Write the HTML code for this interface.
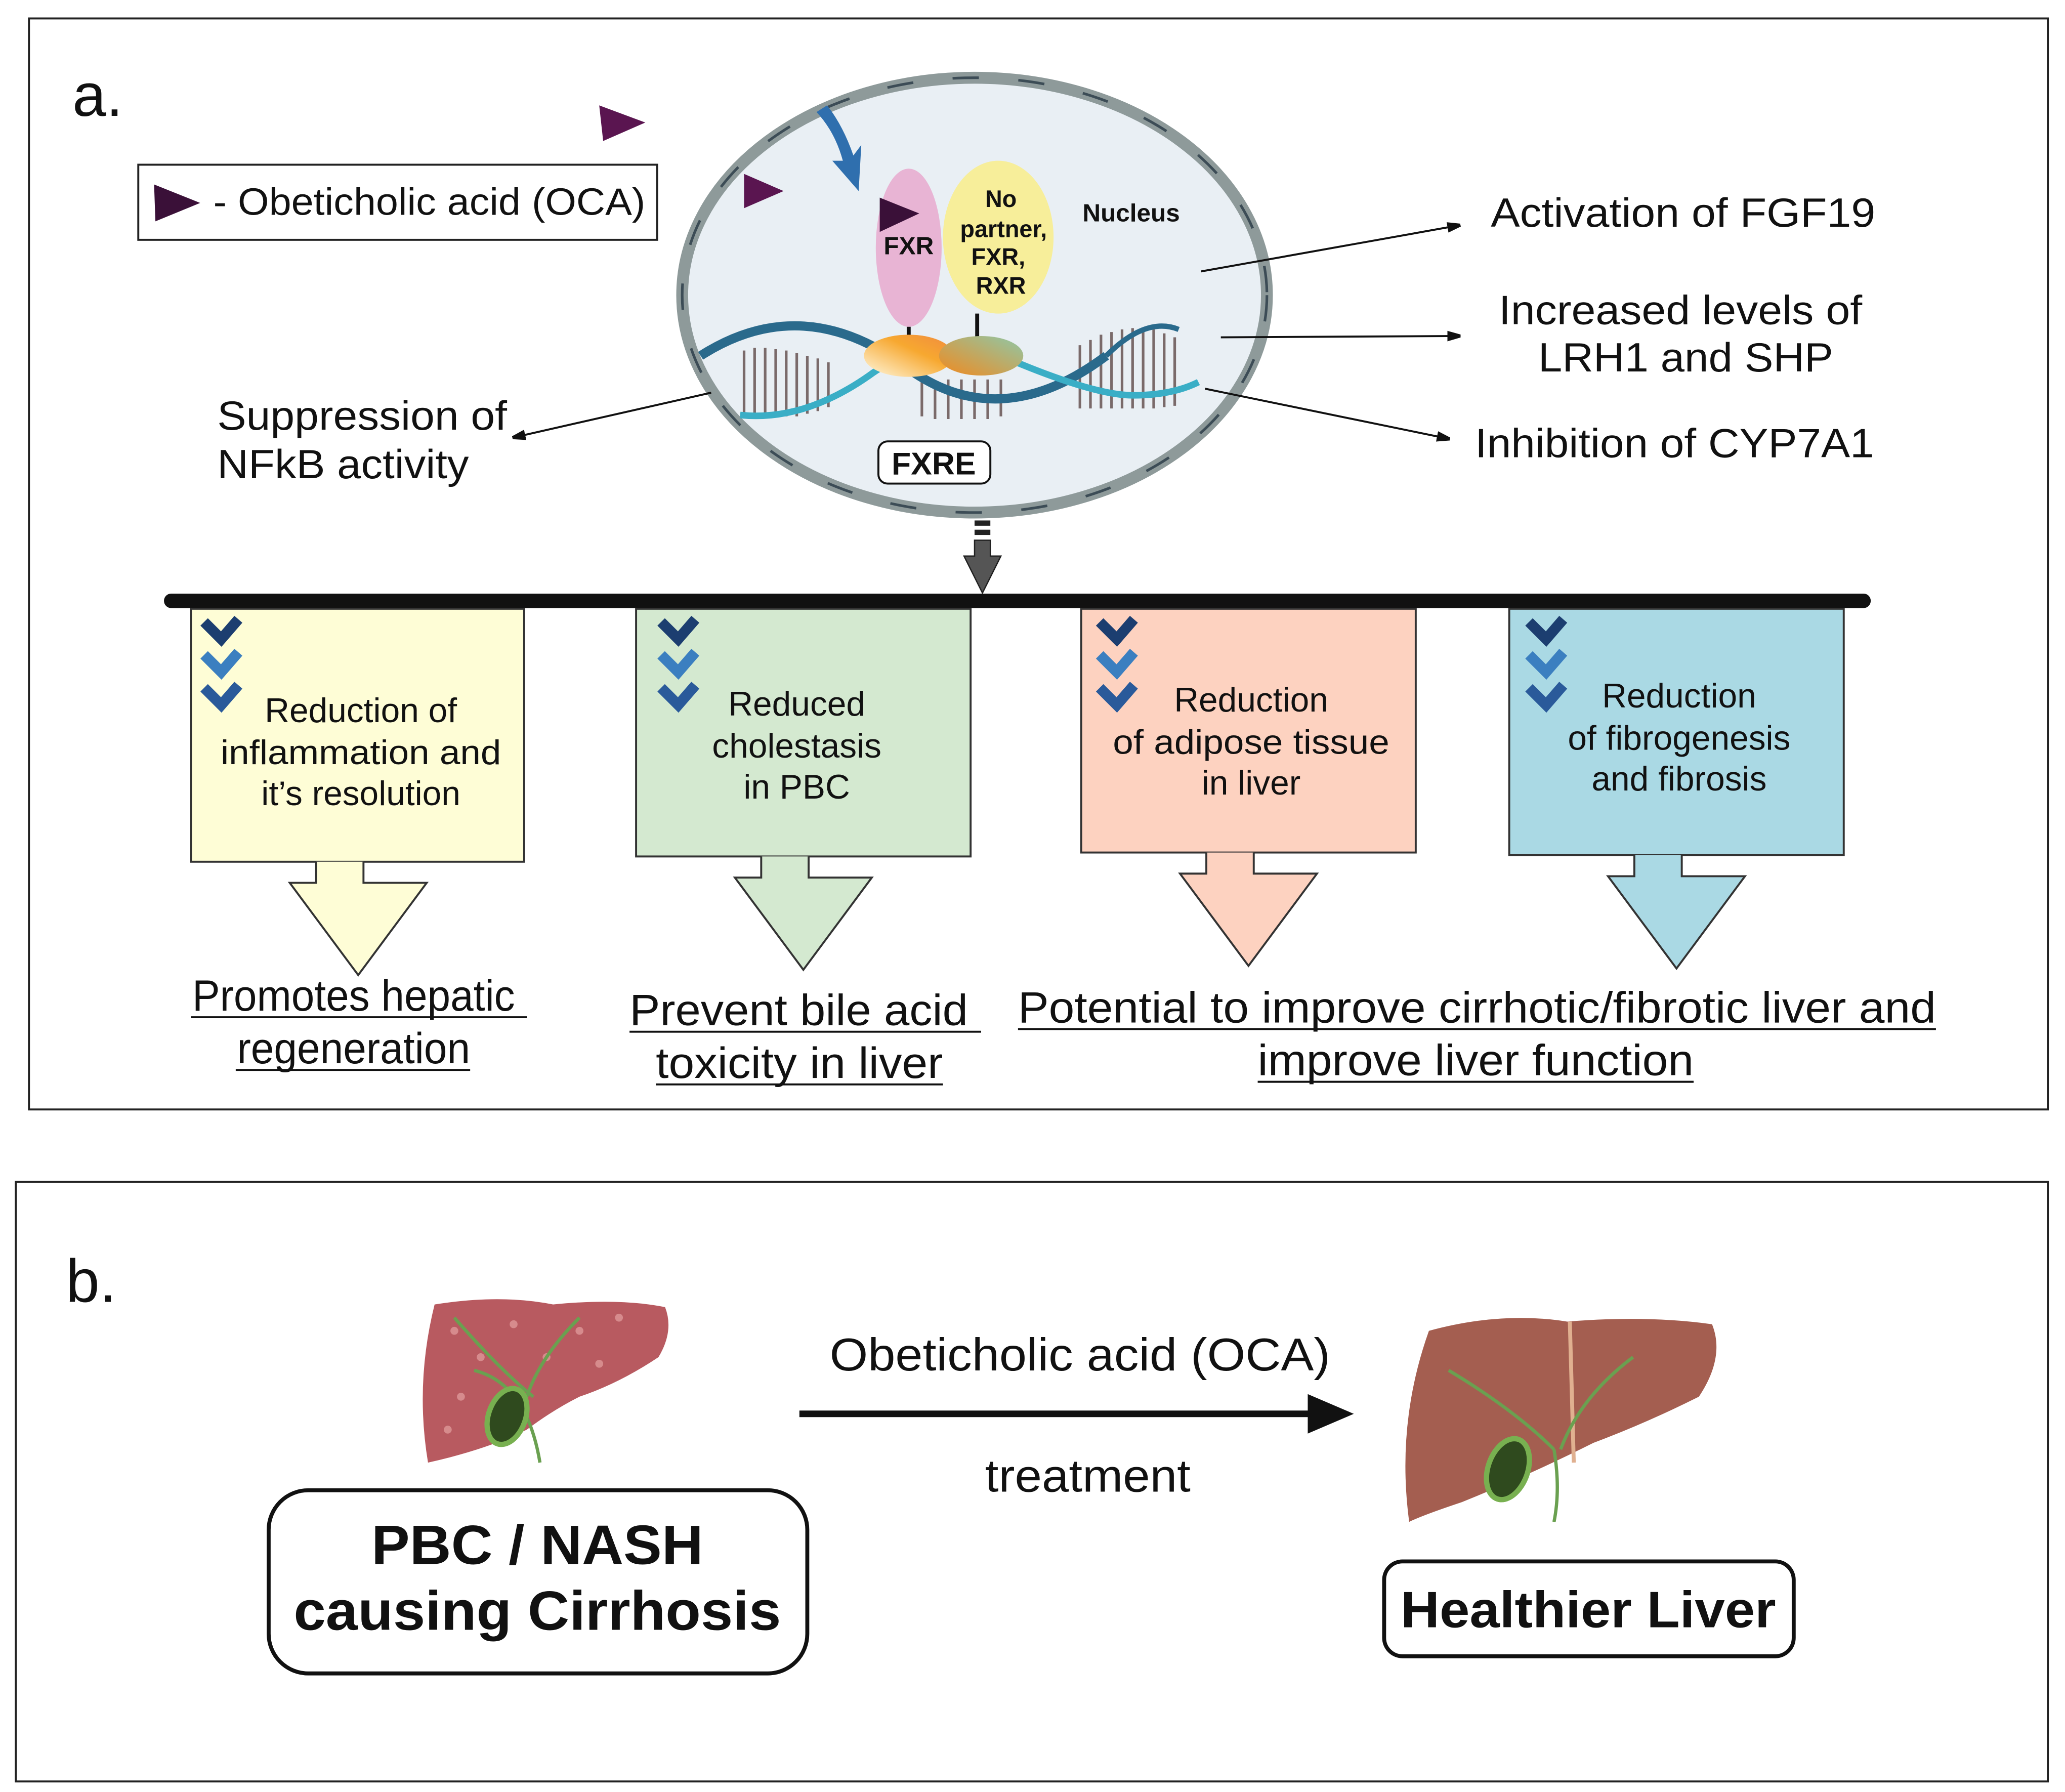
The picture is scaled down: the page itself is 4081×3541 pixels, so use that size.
<!DOCTYPE html>
<html><head><meta charset="utf-8"><style>
html,body{margin:0;padding:0;background:#fff}
svg{display:block}
text{font-family:"Liberation Sans",sans-serif;fill:#111}
</style></head><body>
<svg width="4081" height="3541" viewBox="0 0 1568 1360" preserveAspectRatio="none" xmlns="http://www.w3.org/2000/svg">
<defs>
<marker id="ah" markerWidth="10" markerHeight="8" refX="9" refY="4" orient="auto" markerUnits="userSpaceOnUse"><path d="M0,0 L14,4 L0,8 Z" fill="#111"/></marker>
<linearGradient id="og" x1="0" y1="1" x2="1" y2="0"><stop offset="0" stop-color="#fff8e0"/><stop offset="0.6" stop-color="#f7a830"/><stop offset="1" stop-color="#f08a40"/></linearGradient>
<linearGradient id="og2" x1="0" y1="1" x2="1" y2="0"><stop offset="0" stop-color="#f08a20"/><stop offset="1" stop-color="#8ec8a8"/></linearGradient>
</defs>
<!-- panel a -->
<rect x="22" y="14" width="1533" height="828" fill="#fff" stroke="#222" stroke-width="1.5"/>
<text x="55" y="88" font-size="46">a.</text>
<path d="M455,80 L490,93 L458,107 Z" fill="#5a1550"/>
<rect x="105" y="125" width="394" height="57" fill="#fff" stroke="#222" stroke-width="1.5"/>
<path d="M117,140 L152,154 L118,168 Z" fill="#3a1038"/>
<text x="162" y="163" font-size="29" textLength="328" lengthAdjust="spacingAndGlyphs">- Obeticholic acid (OCA)</text>
<!-- nucleus -->
<ellipse cx="740" cy="224" rx="222" ry="165" fill="#e9eff4" stroke="#8e9a9a" stroke-width="9"/>
<ellipse cx="740" cy="224" rx="222" ry="165" fill="none" stroke="#3c4c56" stroke-width="2" stroke-dasharray="20 30"/>
<path d="M628,80 Q640,95 648,118 L654,110 L652,145 L632,122 L640,122 Q634,100 620,85 Z" fill="#2f6fae"/>
<path d="M565,132 L595,145 L565,158 Z" fill="#5a1550"/>
<!-- DNA -->
<g stroke="#7a6a6a" stroke-width="2">
<path d="M565,266v48M573,264v52M581,264v53M589,265v52M597,266v50M605,268v48M613,270v44M621,272v40M629,275v34M700,290v26M710,290v28M720,288v30M730,288v30M740,288v30M750,288v30M760,288v28M820,262v48M828,258v52M836,254v56M844,252v58M852,250v60M860,249v61M868,249v61M876,250v60M884,253v56M892,256v52"/>
</g>
<path d="M532,270 Q610,220 690,280 Q760,330 840,270" fill="none" stroke="#2a6a8c" stroke-width="7"/>
<path d="M840,270 Q870,240 895,250" fill="none" stroke="#2a6a8c" stroke-width="4"/>
<path d="M562,315 Q610,320 660,285 Q700,255 760,270 Q830,300 860,300 Q890,300 910,290" fill="none" stroke="#3aaec6" stroke-width="5"/>
<!-- proteins -->
<ellipse cx="690" cy="188" rx="25" ry="60" fill="#e8b4d4"/>
<ellipse cx="758" cy="180" rx="42" ry="58" fill="#f7ee9a"/>
<path d="M668,150 L698,162 L668,176 Z" fill="#3a1038"/>
<text x="690" y="193" font-size="19" font-weight="bold" text-anchor="middle">FXR</text>
<g font-size="18" font-weight="bold" text-anchor="middle"><text x="760" y="157">No</text><text x="762" y="180">partner,</text><text x="758" y="201">FXR,</text><text x="760" y="223">RXR</text></g>
<text x="822" y="168" font-size="19" font-weight="bold">Nucleus</text>
<line x1="690" y1="248" x2="690" y2="262" stroke="#111" stroke-width="3"/>
<line x1="742" y1="238" x2="742" y2="260" stroke="#111" stroke-width="3"/>
<ellipse cx="690" cy="270" rx="34" ry="16" fill="url(#og)"/>
<ellipse cx="745" cy="270" rx="32" ry="15" fill="url(#og2)"/>
<rect x="667" y="335" width="85" height="32" rx="7" fill="#fff" stroke="#111" stroke-width="1.5"/>
<text x="709" y="360" font-size="24" font-weight="bold" text-anchor="middle">FXRE</text>
<!-- connectors -->
<g stroke="#111" stroke-width="1.5" fill="none" marker-end="url(#ah)">
<line x1="912" y1="206" x2="1108" y2="171"/>
<line x1="927" y1="256" x2="1108" y2="255"/>
<line x1="915" y1="295" x2="1100" y2="333"/>
<line x1="540" y1="298" x2="390" y2="332"/>
</g>
<text x="1132" y="172" font-size="31" textLength="292" lengthAdjust="spacingAndGlyphs">Activation of FGF19</text>
<text x="1138" y="246" font-size="31" textLength="276" lengthAdjust="spacingAndGlyphs">Increased levels of</text>
<text x="1168" y="282" font-size="31" textLength="224" lengthAdjust="spacingAndGlyphs">LRH1 and SHP</text>
<text x="1120" y="347" font-size="31" textLength="303" lengthAdjust="spacingAndGlyphs">Inhibition of CYP7A1</text>
<text x="165" y="326" font-size="31" textLength="220" lengthAdjust="spacingAndGlyphs">Suppression of</text>
<text x="165" y="363" font-size="31" textLength="191" lengthAdjust="spacingAndGlyphs">NFkB activity</text>
<!-- down arrow -->
<rect x="740" y="395" width="12" height="4" fill="#222"/><rect x="740" y="402" width="12" height="4" fill="#222"/>
<path d="M740,410 h12 v12 h8 l-14,28 l-14,-28 h8 z" fill="#555" stroke="#222"/>
<line x1="130" y1="456" x2="1415" y2="456" stroke="#111" stroke-width="11" stroke-linecap="round"/>
<!-- boxes -->
<g stroke="#333" stroke-width="1.5">
<rect x="145" y="462" width="253" height="192" fill="#fefdd6"/>
<path d="M240,654 v16 h-20 l52,70 l52,-70 h-48 v-16" fill="#fefdd6"/>
<rect x="483" y="462" width="254" height="188" fill="#d4e9d0"/>
<path d="M578,650 v16 h-20 l52,70 l52,-70 h-48 v-16" fill="#d4e9d0"/>
<rect x="821" y="462" width="254" height="185" fill="#fdd2c0"/>
<path d="M916,647 v16 h-20 l52,70 l52,-70 h-48 v-16" fill="#fdd2c0"/>
<rect x="1146" y="462" width="254" height="187" fill="#aad9e4"/>
<path d="M1241,649 v16 h-20 l52,70 l52,-70 h-48 v-16" fill="#aad9e4"/>
</g>
<!-- chevrons -->
<g fill="none" stroke-width="8" stroke-linejoin="miter">
<g transform="translate(168,470)"><path d="M-13,2 l13,13 l13,-15" stroke="#1c3e70"/><path d="M-13,27 l13,13 l13,-15" stroke="#3b7fc0"/><path d="M-13,52 l13,13 l13,-15" stroke="#2a5a9a"/></g>
<g transform="translate(515,470)"><path d="M-13,2 l13,13 l13,-15" stroke="#1c3e70"/><path d="M-13,27 l13,13 l13,-15" stroke="#3b7fc0"/><path d="M-13,52 l13,13 l13,-15" stroke="#2a5a9a"/></g>
<g transform="translate(848,470)"><path d="M-13,2 l13,13 l13,-15" stroke="#1c3e70"/><path d="M-13,27 l13,13 l13,-15" stroke="#3b7fc0"/><path d="M-13,52 l13,13 l13,-15" stroke="#2a5a9a"/></g>
<g transform="translate(1174,470)"><path d="M-13,2 l13,13 l13,-15" stroke="#1c3e70"/><path d="M-13,27 l13,13 l13,-15" stroke="#3b7fc0"/><path d="M-13,52 l13,13 l13,-15" stroke="#2a5a9a"/></g>
</g>
<g font-size="26" text-anchor="middle">
<text x="274" y="548">Reduction of</text><text x="274" y="580" textLength="213" lengthAdjust="spacingAndGlyphs">inflammation and</text><text x="274" y="611">it’s resolution</text>
<text x="605" y="543">Reduced</text><text x="605" y="575">cholestasis</text><text x="605" y="606">in PBC</text>
<text x="950" y="540">Reduction</text><text x="950" y="572" textLength="210" lengthAdjust="spacingAndGlyphs">of adipose tissue</text><text x="950" y="603">in liver</text>
<text x="1275" y="537">Reduction</text><text x="1275" y="569">of fibrogenesis</text><text x="1275" y="600">and fibrosis</text>
</g>
<g font-size="33">
<text x="146" y="767" textLength="245" lengthAdjust="spacingAndGlyphs">Promotes hepatic</text><text x="180" y="807" textLength="177" lengthAdjust="spacingAndGlyphs">regeneration</text>
<text x="478" y="778" textLength="257" lengthAdjust="spacingAndGlyphs">Prevent bile acid</text><text x="498" y="818" textLength="218" lengthAdjust="spacingAndGlyphs">toxicity in liver</text>
<text x="773" y="776" textLength="697" lengthAdjust="spacingAndGlyphs">Potential to improve cirrhotic/fibrotic liver and</text><text x="955" y="816" textLength="331" lengthAdjust="spacingAndGlyphs">improve liver function</text>
</g>
<g stroke="#111" stroke-width="1.5"><line x1="145" y1="772" x2="400" y2="772"/><line x1="179" y1="812" x2="357" y2="812"/><line x1="478" y1="783" x2="745" y2="783"/><line x1="498" y1="823" x2="716" y2="823"/><line x1="773" y1="781" x2="1470" y2="781"/><line x1="955" y1="821" x2="1286" y2="821"/></g>
<!-- panel b -->
<rect x="12" y="897" width="1543" height="455" fill="#fff" stroke="#222" stroke-width="1.5"/>
<text x="50" y="988" font-size="46">b.</text>
<!-- sick liver -->
<path d="M330,990 Q380,982 420,990 Q470,985 505,992 Q512,1010 500,1030 Q470,1050 440,1060 Q420,1070 400,1085 Q370,1100 325,1110 Q315,1050 330,990 Z" fill="#b85a60"/>
<g fill="#e3a0a0" opacity="0.7"><circle cx="345" cy="1010" r="3"/><circle cx="365" cy="1030" r="3"/><circle cx="390" cy="1005" r="3"/><circle cx="440" cy="1010" r="3"/><circle cx="470" cy="1000" r="3"/><circle cx="350" cy="1060" r="3"/><circle cx="340" cy="1085" r="3"/><circle cx="455" cy="1035" r="3"/><circle cx="415" cy="1030" r="3"/></g>
<path d="M345,1000 Q380,1040 405,1060 M440,1000 Q410,1030 400,1060 M360,1040 Q400,1050 410,1110" stroke="#6aa050" stroke-width="2.5" fill="none"/>
<ellipse cx="385" cy="1075" rx="14" ry="22" fill="#2f4a1e" stroke="#78b050" stroke-width="4" transform="rotate(20 385 1075)"/>
<!-- arrow -->
<line x1="607" y1="1073" x2="1000" y2="1073" stroke="#111" stroke-width="5"/>
<path d="M993,1058 L1028,1073 L993,1088 Z" fill="#111"/>
<text x="630" y="1040" font-size="35" textLength="380" lengthAdjust="spacingAndGlyphs">Obeticholic acid (OCA)</text>
<text x="748" y="1132" font-size="35" textLength="156" lengthAdjust="spacingAndGlyphs">treatment</text>
<rect x="204" y="1131" width="409" height="139" rx="30" fill="#fff" stroke="#111" stroke-width="3"/>
<text x="408" y="1187" font-size="42" font-weight="bold" text-anchor="middle" textLength="252" lengthAdjust="spacingAndGlyphs">PBC / NASH</text>
<text x="408" y="1237" font-size="42" font-weight="bold" text-anchor="middle" textLength="370" lengthAdjust="spacingAndGlyphs">causing Cirrhosis</text>
<!-- healthy liver -->
<path d="M1085,1010 Q1140,995 1190,1003 Q1250,998 1300,1005 Q1310,1030 1290,1060 Q1250,1080 1210,1095 Q1160,1120 1110,1140 Q1080,1150 1070,1155 Q1060,1080 1085,1010 Z" fill="#a45e50"/>
<line x1="1192" y1="1003" x2="1195" y2="1110" stroke="#e0b090" stroke-width="3"/>
<path d="M1100,1040 Q1150,1070 1180,1100 M1240,1030 Q1200,1060 1185,1100 M1180,1100 Q1185,1130 1180,1155" stroke="#6aa050" stroke-width="2.5" fill="none"/>
<ellipse cx="1145" cy="1115" rx="15" ry="24" fill="#2f4a1e" stroke="#78b050" stroke-width="4" transform="rotate(20 1145 1115)"/>
<rect x="1051" y="1185" width="311" height="72" rx="14" fill="#fff" stroke="#111" stroke-width="3"/>
<text x="1206" y="1235" font-size="39" font-weight="bold" text-anchor="middle" textLength="285" lengthAdjust="spacingAndGlyphs">Healthier Liver</text>
</svg>
</body></html>
